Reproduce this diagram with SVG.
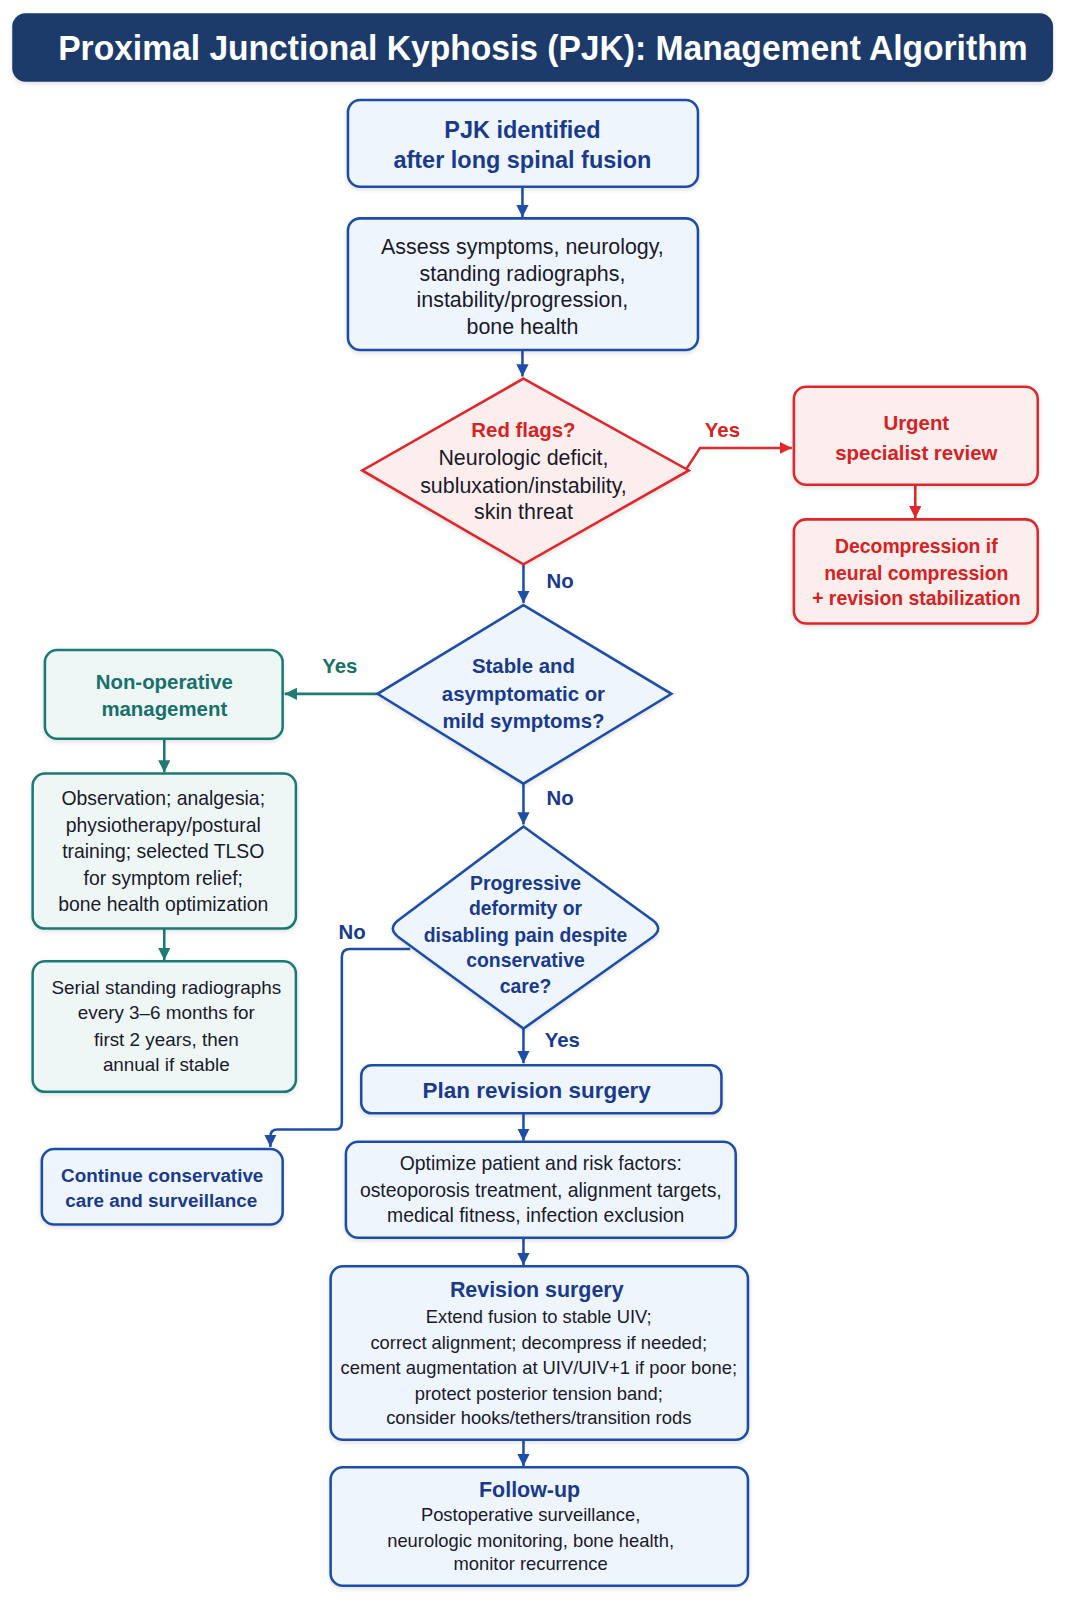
<svg xmlns="http://www.w3.org/2000/svg" width="1066" height="1600" viewBox="0 0 1066 1600">
<style>
text{font-family:"Liberation Sans",Arial,sans-serif;text-anchor:middle}
.b{fill:#eef5fd;stroke:#1f4ea8;stroke-width:2.5}
.r{fill:#fdeeee;stroke:#e0282a;stroke-width:2.5}
.t{fill:#eef7f6;stroke:#1d7a74;stroke-width:2.5}
.hb{fill:#1a3a8c;font-weight:bold}
.hr{fill:#d62222;font-weight:bold}
.ht{fill:#17706a;font-weight:bold}
.d{fill:#1a1a2a}
.cb{fill:none;stroke:#1f4ea8;stroke-width:2.5}
.cr{fill:none;stroke:#e0282a;stroke-width:2.5}
.ct{fill:none;stroke:#1d7a74;stroke-width:2.5}
</style>
<defs>
<marker id="ab" markerUnits="userSpaceOnUse" markerWidth="14" markerHeight="14" refX="12" refY="6" orient="auto"><path d="M0,0 L12,6 L0,12 Z" fill="#1f4ea8"/></marker>
<marker id="ar" markerUnits="userSpaceOnUse" markerWidth="14" markerHeight="14" refX="12" refY="6" orient="auto"><path d="M0,0 L12,6 L0,12 Z" fill="#e0282a"/></marker>
<marker id="at" markerUnits="userSpaceOnUse" markerWidth="14" markerHeight="14" refX="12" refY="6" orient="auto"><path d="M0,0 L12,6 L0,12 Z" fill="#1d7a74"/></marker>
<filter id="sh" x="-5%" y="-5%" width="110%" height="120%"><feDropShadow dx="0" dy="2" stdDeviation="2" flood-color="#000" flood-opacity="0.12"/></filter>
</defs>
<rect width="1066" height="1600" fill="#ffffff"/>
<g transform="scale(1.0204)">
<g id="title">
<rect x="12" y="13" width="1020" height="67" rx="13" fill="#1d3a6b" filter="url(#sh)"/>
<text x="532" y="59" font-size="34" font-weight="bold" fill="#ffffff" textLength="950" lengthAdjust="spacingAndGlyphs">Proximal Junctional Kyphosis (PJK): Management Algorithm</text>
</g>

<g id="connectors">
<line class="cb" x1="512" y1="183" x2="512" y2="213" marker-end="url(#ab)"/>
<line class="cb" x1="512" y1="343" x2="512" y2="369" marker-end="url(#ab)"/>
<path class="cr" d="M673,459 L686,439 L776,439" marker-end="url(#ar)"/>
<line class="cr" x1="897" y1="475" x2="897" y2="508" marker-end="url(#ar)"/>
<line class="cb" x1="513" y1="553" x2="513" y2="591" marker-end="url(#ab)"/>
<line class="ct" x1="370" y1="680" x2="279" y2="680" marker-end="url(#at)"/>
<line class="ct" x1="161" y1="724" x2="161" y2="757" marker-end="url(#at)"/>
<line class="ct" x1="161" y1="910" x2="161" y2="941" marker-end="url(#at)"/>
<line class="cb" x1="513" y1="768" x2="513" y2="808" marker-end="url(#ab)"/>
<path class="cb" d="M402,930 L343,930 Q335,930 335,938 L335,1100 Q335,1107 328,1107 L272,1107 Q265,1107 265,1114 L265,1124" marker-end="url(#ab)"/>
<line class="cb" x1="513" y1="1008" x2="513" y2="1042" marker-end="url(#ab)"/>
<line class="cb" x1="513" y1="1091" x2="513" y2="1118" marker-end="url(#ab)"/>
<line class="cb" x1="513" y1="1213" x2="513" y2="1240" marker-end="url(#ab)"/>
<line class="cb" x1="513" y1="1411" x2="513" y2="1437" marker-end="url(#ab)"/>
<text x="708" y="428" font-size="20" class="hr">Yes</text>
<text x="549" y="576" font-size="20" class="hb">No</text>
<text x="333" y="660" font-size="20" class="ht">Yes</text>
<text x="549" y="789" font-size="20" class="hb">No</text>
<text x="345" y="920" font-size="20" class="hb">No</text>
<text x="551" y="1026" font-size="20" class="hb">Yes</text>
</g>

<g id="n1">
<rect class="b" x="341" y="98" width="343" height="85" rx="12" filter="url(#sh)"/>
<text x="512" y="135" font-size="23" class="hb">PJK identified</text>
<text x="512" y="165" font-size="23" class="hb">after long spinal fusion</text>
</g>

<g id="n2">
<rect class="b" x="341" y="214" width="343" height="129" rx="12" filter="url(#sh)"/>
<text x="512" y="249" font-size="21" class="d">Assess symptoms, neurology,</text>
<text x="512" y="275" font-size="21" class="d">standing radiographs,</text>
<text x="512" y="301" font-size="21" class="d">instability/progression,</text>
<text x="512" y="327" font-size="21" class="d">bone health</text>
</g>

<g id="d1">
<polygon class="r" points="513,371 675,461 513,553 355,461" filter="url(#sh)"/>
<text x="513" y="428" font-size="20" class="hr">Red flags?</text>
<text x="513" y="456" font-size="21" class="d">Neurologic deficit,</text>
<text x="513" y="483" font-size="21" class="d">subluxation/instability,</text>
<text x="513" y="509" font-size="21" class="d">skin threat</text>
</g>

<g id="urgent">
<rect class="r" x="778" y="379" width="239" height="96" rx="12" filter="url(#sh)"/>
<text x="898" y="421" font-size="20" class="hr">Urgent</text>
<text x="898" y="451" font-size="20" class="hr">specialist review</text>
</g>

<g id="decomp">
<rect class="r" x="778" y="509" width="239" height="102" rx="12" filter="url(#sh)"/>
<text x="898" y="542" font-size="19" class="hr">Decompression if</text>
<text x="898" y="568" font-size="19" class="hr">neural compression</text>
<text x="898" y="593" font-size="19" class="hr">+ revision stabilization</text>
</g>

<g id="d2">
<polygon class="b" points="513,593 658,680 513,768 370,680" filter="url(#sh)"/>
<text x="513" y="660" font-size="20" class="hb">Stable and</text>
<text x="513" y="687" font-size="20" class="hb">asymptomatic or</text>
<text x="513" y="713" font-size="20" class="hb">mild symptoms?</text>
</g>

<g id="nonop">
<rect class="t" x="44" y="637" width="233" height="87" rx="12" filter="url(#sh)"/>
<text x="161" y="675" font-size="20" class="ht">Non-operative</text>
<text x="161" y="702" font-size="20" class="ht">management</text>
</g>

<g id="obs">
<rect class="t" x="32" y="758" width="258" height="152" rx="12" filter="url(#sh)"/>
<text x="160" y="789" font-size="19" class="d">Observation; analgesia;</text>
<text x="160" y="815" font-size="19" class="d">physiotherapy/postural</text>
<text x="160" y="841" font-size="19" class="d">training; selected TLSO</text>
<text x="160" y="867" font-size="19" class="d">for symptom relief;</text>
<text x="160" y="893" font-size="19" class="d">bone health optimization</text>
</g>

<g id="serial">
<rect class="t" x="32" y="942" width="258" height="128" rx="12" filter="url(#sh)"/>
<text x="163" y="974" font-size="18.5" class="d">Serial standing radiographs</text>
<text x="163" y="999" font-size="18.5" class="d">every 3–6 months for</text>
<text x="163" y="1025" font-size="18.5" class="d">first 2 years, then</text>
<text x="163" y="1050" font-size="18.5" class="d">annual if stable</text>
</g>

<g id="d3">
<path class="b" d="M513,810 L640,902 Q650,910 640,918 L513,1008 L390,918 Q380,910 390,902 Z" filter="url(#sh)"/>
<text x="515" y="872" font-size="19" class="hb">Progressive</text>
<text x="515" y="897" font-size="19" class="hb">deformity or</text>
<text x="515" y="923" font-size="19" class="hb">disabling pain despite</text>
<text x="515" y="948" font-size="19" class="hb">conservative</text>
<text x="515" y="973" font-size="19" class="hb">care?</text>
</g>

<g id="plan">
<rect class="b" x="354" y="1044" width="353" height="47" rx="10" filter="url(#sh)"/>
<text x="526" y="1076" font-size="22" class="hb">Plan revision surgery</text>
</g>

<g id="cont">
<rect class="b" x="41" y="1126" width="236" height="74" rx="12" filter="url(#sh)"/>
<text x="159" y="1158" font-size="18.5" class="hb">Continue conservative</text>
<text x="158" y="1183" font-size="18.5" class="hb">care and surveillance</text>
</g>

<g id="opt">
<rect class="b" x="339" y="1119" width="382" height="94" rx="12" filter="url(#sh)"/>
<text x="530" y="1147" font-size="19" class="d">Optimize patient and risk factors:</text>
<text x="530" y="1173" font-size="19" class="d">osteoporosis treatment, alignment targets,</text>
<text x="525" y="1198" font-size="19" class="d">medical fitness, infection exclusion</text>
</g>

<g id="rev">
<rect class="b" x="324" y="1241" width="409" height="170" rx="12" filter="url(#sh)"/>
<text x="526" y="1271" font-size="21" class="hb">Revision surgery</text>
<text x="528" y="1297" font-size="18" class="d">Extend fusion to stable UIV;</text>
<text x="528" y="1322" font-size="18" class="d">correct alignment; decompress if needed;</text>
<text x="528" y="1347" font-size="18" class="d">cement augmentation at UIV/UIV+1 if poor bone;</text>
<text x="528" y="1372" font-size="18" class="d">protect posterior tension band;</text>
<text x="528" y="1396" font-size="18" class="d">consider hooks/tethers/transition rods</text>
</g>

<g id="fu">
<rect class="b" x="324" y="1438" width="409" height="116" rx="12" filter="url(#sh)"/>
<text x="519" y="1467" font-size="21" class="hb">Follow-up</text>
<text x="520" y="1491" font-size="18" class="d">Postoperative surveillance,</text>
<text x="520" y="1516" font-size="18" class="d">neurologic monitoring, bone health,</text>
<text x="520" y="1539" font-size="18" class="d">monitor recurrence</text>
</g>
</g>
</svg>
